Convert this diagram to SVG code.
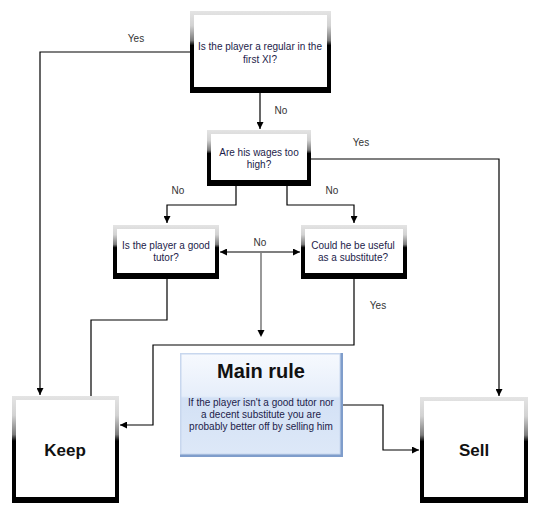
<svg xmlns="http://www.w3.org/2000/svg" width="536" height="510" viewBox="0 0 536 510">
<defs>
<linearGradient id="brd" x1="0" y1="0" x2="0" y2="1">
<stop offset="0" stop-color="#e4e4e4"/>
<stop offset="0.18" stop-color="#d2d2d2"/>
<stop offset="0.36" stop-color="#7a7a7a"/>
<stop offset="0.42" stop-color="#000"/>
<stop offset="1" stop-color="#000"/>
</linearGradient>
<linearGradient id="blue" x1="0" y1="0" x2="0" y2="1">
<stop offset="0" stop-color="#f6f9fe"/>
<stop offset="0.42" stop-color="#e6eefa"/>
<stop offset="0.44" stop-color="#d3e1f5"/>
<stop offset="1" stop-color="#dde8f8"/>
</linearGradient>
<marker id="arr" viewBox="0 0 10 10" refX="10" refY="5" markerWidth="7" markerHeight="7" markerUnits="userSpaceOnUse" orient="auto-start-reverse">
<path d="M0,0 L10,5 L0,10 z" fill="#000"/>
</marker>
</defs>
<style>
.frame{fill:url(#brd)}
.inner{fill:#fff}
.t{font-family:"Liberation Sans",Arial,sans-serif;font-size:10px;fill:#1c1c4a;text-anchor:middle}
.lbl{font-family:"Liberation Sans",Arial,sans-serif;font-size:10px;fill:#333;text-anchor:middle}
.big{font-family:"Liberation Sans",Arial,sans-serif;font-size:17px;font-weight:bold;fill:#111;text-anchor:middle}
.c{fill:none;stroke:#000;stroke-width:1.2}
</style>
<rect width="536" height="510" fill="#fff"/>

<g id="connectors">
<polyline class="c" points="190,52 40,52 40,395" marker-end="url(#arr)"/>
<line class="c" x1="260" y1="92" x2="260" y2="129" marker-end="url(#arr)"/>
<polyline class="c" points="311,159 499,159 499,396" marker-end="url(#arr)"/>
<polyline class="c" points="236,185 236,205 167,205 167,223" marker-end="url(#arr)"/>
<polyline class="c" points="287,185 287,205 354,205 354,223" marker-end="url(#arr)"/>
<line class="c" x1="220" y1="252" x2="300" y2="252" marker-start="url(#arr)" marker-end="url(#arr)"/>
<line x1="261" y1="252" x2="261" y2="330" stroke="#808080" stroke-width="1.6"/>
<path d="M257.5,330 L264.5,330 L261,337 z" fill="#000"/>
<polyline class="c" points="167,278 167,320 91,320 91,396"/>
<polyline class="c" points="354,278 354,345 153,345 153,425 120,425" marker-end="url(#arr)"/>
<polyline class="c" points="343,405 383,405 383,450 419,450" marker-end="url(#arr)"/>
<text class="lbl" x="136" y="42">Yes</text>
<text class="lbl" x="281" y="114">No</text>
<text class="lbl" x="361" y="146">Yes</text>
<text class="lbl" x="178" y="194">No</text>
<text class="lbl" x="332" y="194">No</text>
<text class="lbl" x="260" y="246">No</text>
<text class="lbl" x="378" y="309">Yes</text>
</g>

<g id="q1">
<rect class="frame" x="190" y="11" width="141" height="82"/>
<rect class="inner" x="194" y="15" width="133" height="72"/>
<text class="t" x="260" y="50">Is the player a regular in the</text>
<text class="t" x="260" y="63">first XI?</text>
</g>

<g id="q2">
<rect class="frame" x="207" y="130" width="104" height="56"/>
<rect class="inner" x="211" y="134" width="96" height="46"/>
<text class="t" x="259" y="156">Are his wages too</text>
<text class="t" x="259" y="168">high?</text>
</g>

<g id="q3">
<rect class="frame" x="113" y="225" width="106" height="54"/>
<rect class="inner" x="117" y="229" width="98" height="44"/>
<text class="t" x="166" y="249">Is the player a good</text>
<text class="t" x="166" y="261">tutor?</text>
</g>

<g id="q4">
<rect class="frame" x="301" y="225" width="106" height="54"/>
<rect class="inner" x="305" y="229" width="98" height="44"/>
<text class="t" x="353" y="249">Could he be useful</text>
<text class="t" x="353" y="261">as a substitute?</text>
</g>

<g id="rule">
<rect x="180" y="353" width="163" height="104" fill="#7f9dcb"/>
<rect x="180" y="353" width="160.5" height="101.5" fill="#c8d7ee"/>
<rect x="181.5" y="354.5" width="158" height="99" fill="url(#blue)"/>
<text x="261" y="378" font-family="'Liberation Sans',Arial,sans-serif" font-size="20" font-weight="bold" fill="#111" text-anchor="middle">Main rule</text>
<text class="t" x="261" y="406" font-size="9.5">If the player isn't a good tutor nor</text>
<text class="t" x="261" y="418" font-size="9.5">a decent substitute you are</text>
<text class="t" x="261" y="430" font-size="9.5">probably better off by selling him</text>
</g>

<g id="keep">
<rect class="frame" x="12" y="396" width="107" height="107"/>
<rect class="inner" x="16" y="400" width="99" height="97"/>
<text class="big" x="65" y="456">Keep</text>
</g>

<g id="sell">
<rect class="frame" x="420" y="397" width="108" height="106"/>
<rect class="inner" x="424" y="401" width="100" height="96"/>
<text class="big" x="474" y="456">Sell</text>
</g>
</svg>
